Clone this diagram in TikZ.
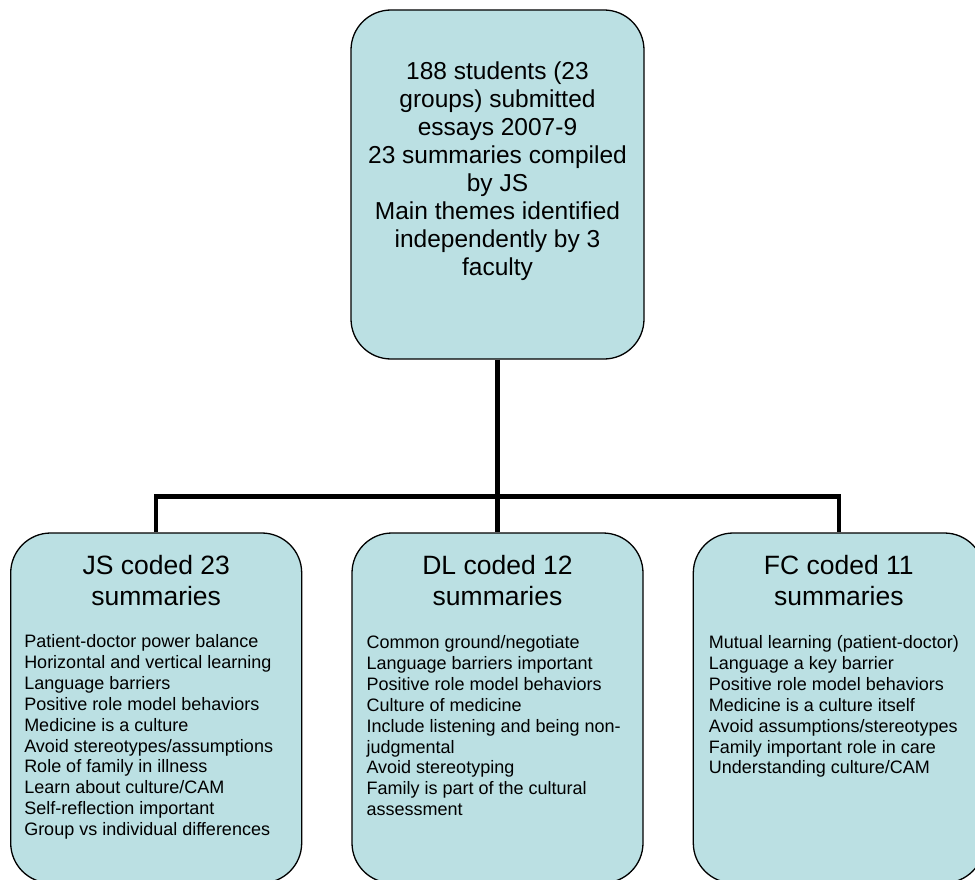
\documentclass[tikz,border=0pt]{standalone}
\usepackage{fontspec}
\setmainfont{Liberation Sans}
\usepackage{xcolor}
\definecolor{cFill}{HTML}{BBE0E3}
\usepackage{tikz}
\usetikzlibrary{positioning}
\tikzset{
  node-box/.style={draw=black,line width=1.3pt,fill=cFill,rounded corners=40pt,
    minimum width=291pt,minimum height=350pt,inner sep=0pt},
  node-top/.style={node-box,minimum width=293pt,minimum height=349pt},
  text-top/.style={align=center,inner sep=0pt,font=\fontsize{24.5}{28}\selectfont},
  text-head/.style={align=center,inner sep=0pt,font=\fontsize{26.5}{31}\selectfont},
  text-list/.style={align=left,inner sep=0pt,font=\fontsize{18}{20.9}\selectfont},
  link/.style={line width=4.3pt,draw=black},
}

\begin{document}
\begin{tikzpicture}[x=1pt,y=-1pt,node distance=49pt]
  \useasboundingbox (0,0) rectangle (975,880);
  % boxes
  \node[node-top] (top) at (497.5,184.5) {};
  \node[node-box] (dl) at (497.5,708) {};
  \node[node-box,left=of dl]  (js) {};
  \node[node-box,right=of dl] (fc) {};
  \coordinate (bus) at (497.5,496.5);
  % connectors
  \draw[link] (top.south) -- (dl.north);
  \draw[link] (js.north) |- (fc.north |- bus) -- (fc.north);
  % texts
  \node[text-top] (topt) at (497.5,171) {188 students (23\\groups) submitted\\essays 2007-9\\23 summaries compiled\\by JS\\Main themes identified\\independently by 3\\faculty};
  \node[text-head,below=23pt of js.north] (jsh) {JS coded 23\\summaries};
  \node[text-head,below=23pt of dl.north] (dlh) {DL coded 12\\summaries};
  \node[text-head,below=23pt of fc.north] (fch) {FC coded 11\\summaries};
  \node[text-list,below right=102pt and 14pt of js.north west] (jsl) {Patient-doctor power balance\\Horizontal and vertical learning\\Language barriers\\Positive role model behaviors\\Medicine is a culture\\Avoid stereotypes/assumptions\\Role of family in illness\\Learn about culture/CAM\\Self-reflection important\\Group vs individual differences};
  \node[text-list,below right=103pt and 15pt of dl.north west] (dll) {Common ground/negotiate\\Language barriers important\\Positive role model behaviors\\Culture of medicine\\Include listening and being non-\\judgmental\\Avoid stereotyping\\Family is part of the cultural\\assessment};
  \node[text-list,below right=103pt and 16pt of fc.north west] (fcl) {Mutual learning (patient-doctor)\\Language a key barrier\\Positive role model behaviors\\Medicine is a culture itself\\Avoid assumptions/stereotypes\\Family important role in care\\Understanding culture/CAM};
\end{tikzpicture}
\end{document}
